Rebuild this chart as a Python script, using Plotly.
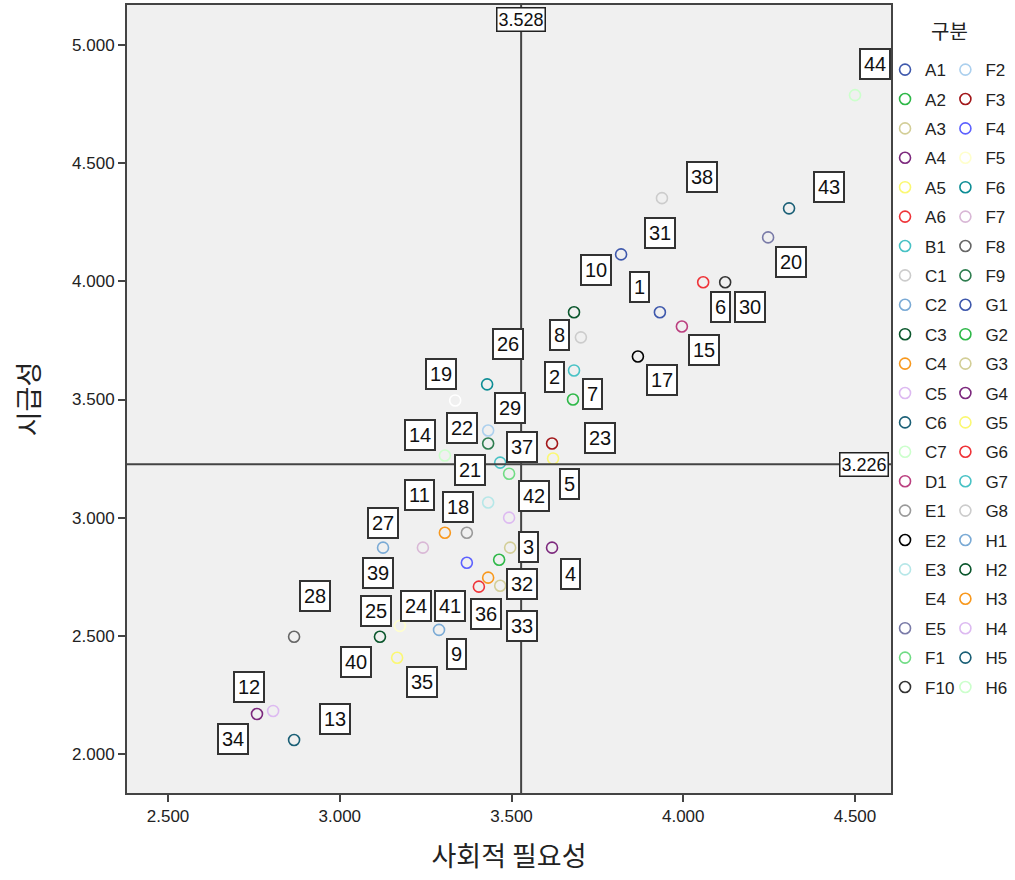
import plotly.graph_objects as go

# ---- data: one row per item (case number 1..44) ----
case_no = list(range(1, 45))
category = [
    "A1", "A2", "A3", "A4", "A5", "A6", "B1",
    "C1", "C2", "C3", "C4", "C5", "C6", "C7", "D1",
    "E1", "E2", "E3", "E4", "E5",
    "F1", "F2", "F3", "F4", "F5", "F6", "F7", "F8", "F9", "F10",
    "G1", "G2", "G3", "G4", "G5", "G6", "G7", "G8",
    "H1", "H2", "H3", "H4", "H5", "H6",
]
social_need = [  # 사회적 필요성
    3.932, 3.679, 3.496, 3.618, 3.621, 4.058, 3.682,
    3.702, 3.289, 3.682, 3.306, 2.806, 2.867, 3.306, 3.996,
    3.370, 3.868, 3.432, 3.336, 4.247,
    3.493, 3.432, 3.618, 3.370, 3.175, 3.429, 3.242, 2.867, 3.432, 4.122,
    3.819, 3.464, 3.467, 2.759, 3.167, 3.405, 3.467, 3.938,
    3.126, 3.117, 3.432, 3.493, 4.308, 4.500,
]
urgency = [  # 시급성
    3.869, 3.500, 2.873, 2.873, 3.250, 3.996, 3.623,
    3.763, 2.525, 3.869, 2.936, 2.182, 2.059, 3.263, 3.809,
    2.936, 3.682, 3.064, 3.496, 4.186,
    3.186, 3.369, 3.314, 2.809, 2.542, 3.564, 2.873, 2.496, 3.314, 3.996,
    4.114, 2.822, 2.712, 2.169, 2.407, 2.708, 3.233, 4.352,
    2.873, 2.496, 2.746, 3.000, 4.309, 4.788,
]
mean_social = 3.528
mean_urgency = 3.226

x_ticks = [2.5, 3.0, 3.5, 4.0, 4.5]
y_ticks = [2.0, 2.5, 3.0, 3.5, 4.0, 4.5, 5.0]

# ---- styling ----
PALETTE = [
    "#3E58AC", "#2EB848", "#D3CE97", "#7C287D", "#FBF873", "#EF3338",
    "#48C2C5", "#CCCCCC", "#7AAAD5", "#0A562C", "#F8981D", "#DDBAF1",
    "#1A5F76", "#CCFFCC", "#BB3F7F", "#999999", "#000000", "#B6E7E8",
    "#FFFFFF", "#797AA7", "#70DC84", "#333333", "#ACD0EE", "#A21619",
    "#5D61FF", "#FFFFCC", "#0D8D95", "#D9B8D6", "#666666", "#2E7D4F",
]
# pixel offsets of each case-number box from its marker (None = label suppressed)
LABEL_OFFSET = {
    1: (-20, -25), 2: (-18, -23), 3: (18, -1), 4: (18, 26), 5: (16, 25),
    6: (17, 25), 7: (18, 24), 8: (-21, -2), 9: (17, 24), 10: (22, -42),
    11: (-25, -38), 12: (-24, -24), 13: (41, -21), 14: (-25, -21), 15: (22, 24),
    16: None, 17: (24, 24), 18: (-30, 4), 19: (-14, -26), 20: (23, 25),
    21: (-39, -4), 22: (-26, -2), 23: (48, -5), 24: (-51, 43), 25: (-24, -15),
    26: (21, -40), 27: (-40, -25), 28: (21, -41), 29: (22, -35), 30: (25, 25),
    31: (39, -21), 32: (23, 24), 33: (22, 40), 34: (-24, 25), 35: (25, 24),
    36: (7, 27), 37: (22, -16), 38: (40, -21), 39: (-5, 25), 40: (-24, 25),
    41: (-38, 28), 42: (25, -22), 43: (40, -21), 44: (20, -31),
}

LATIN = "Liberation Sans, Arial, sans-serif"
HANGUL = "Noto Sans CJK KR, sans-serif"

legend_order = sorted(category)          # A1..E5, F1, F10, F2.. as in the legend
color_of = {c: PALETTE[i % len(PALETTE)] for i, c in enumerate(legend_order)}
half = (len(legend_order) + 1) // 2

fig = go.Figure()
for i, cat in enumerate(legend_order):
    k = category.index(cat)
    fig.add_trace(go.Scatter(
        x=[social_need[k]], y=[urgency[k]],
        mode="markers", name=cat,
        legend="legend" if i < half else "legend2",
        legendgroup=cat,
        marker=dict(symbol="circle-open", size=11, color=color_of[cat],
                    line=dict(width=1.6)),
        hovertemplate=f"{cat} (#{case_no[k]})<br>사회적 필요성 %{{x:.3f}}"
                      f"<br>시급성 %{{y:.3f}}<extra></extra>",
    ))

annotations = []
for k, n in enumerate(case_no):
    off = LABEL_OFFSET.get(n)
    if off is None:
        continue
    annotations.append(dict(
        x=social_need[k], y=urgency[k], xref="x", yref="y",
        text=str(n), showarrow=False,
        xshift=off[0], yshift=-off[1],
        font=dict(family=LATIN, size=20, color="#111111"),
        bgcolor="white", bordercolor="#333333", borderwidth=2, borderpad=3,
    ))

# mean-value tags on the reference lines
annotations.append(dict(
    x=mean_social, y=1, xref="x", yref="paper", yanchor="top", yshift=-2,
    text=f"{mean_social:.3f}", showarrow=False,
    font=dict(family=LATIN, size=18, color="#111111"),
    bgcolor="white", bordercolor="#222222", borderwidth=1.5, borderpad=1,
))
annotations.append(dict(
    x=1, y=mean_urgency, xref="paper", yref="y", xanchor="right", xshift=-2,
    text=f"{mean_urgency:.3f}", showarrow=False,
    font=dict(family=LATIN, size=18, color="#111111"),
    bgcolor="white", bordercolor="#222222", borderwidth=1.5, borderpad=1,
))
# legend heading
annotations.append(dict(
    x=1.0772, y=0.968, xref="paper", yref="paper",
    xanchor="center", yanchor="middle",
    text="구분", showarrow=False,
    font=dict(family=HANGUL, size=20, color="#222222"),
))

shapes = [
    dict(type="line", xref="x", yref="paper", x0=mean_social, x1=mean_social,
         y0=0, y1=1, line=dict(color="#444444", width=2)),
    dict(type="line", xref="paper", yref="y", x0=0, x1=1,
         y0=mean_urgency, y1=mean_urgency, line=dict(color="#444444", width=2)),
]

legend_common = dict(
    xanchor="left", yanchor="top", bgcolor="rgba(0,0,0,0)",
    font=dict(family=LATIN, size=17, color="#222222"),
    tracegroupgap=4.3, itemwidth=30, borderwidth=0,
)

fig.update_layout(
    width=1015, height=880,
    margin=dict(l=127, r=124, t=5, b=87, autoexpand=False),
    paper_bgcolor="white", plot_bgcolor="#F0F0F0",
    showlegend=True,
    legend=dict(x=0.9922, y=0.9403, **legend_common),
    legend2=dict(x=1.0712, y=0.9403, **legend_common),
    annotations=annotations, shapes=shapes,
    xaxis=dict(
        range=[2.3806, 4.6048], tickvals=x_ticks, tickformat=".3f",
        showgrid=False, zeroline=False,
        showline=True, mirror=True, linecolor="#444444", linewidth=2,
        ticks="outside", ticklen=7, tickwidth=2, tickcolor="#444444",
        tickfont=dict(family=LATIN, size=17, color="#222222"),
        title=dict(text="사회적 필요성", standoff=22,
                   font=dict(family=HANGUL, size=27, color="#222222")),
    ),
    yaxis=dict(
        range=[1.8347, 5.1695], tickvals=y_ticks, tickformat=".3f",
        showgrid=False, zeroline=False,
        showline=True, mirror=True, linecolor="#444444", linewidth=2,
        ticks="outside", ticklen=7, tickwidth=2, tickcolor="#444444",
        tickfont=dict(family=LATIN, size=17, color="#222222"),
        title=dict(text="시급성", standoff=25,
                   font=dict(family=HANGUL, size=27, color="#222222")),
    ),
)

fig.write_html("out.html")
